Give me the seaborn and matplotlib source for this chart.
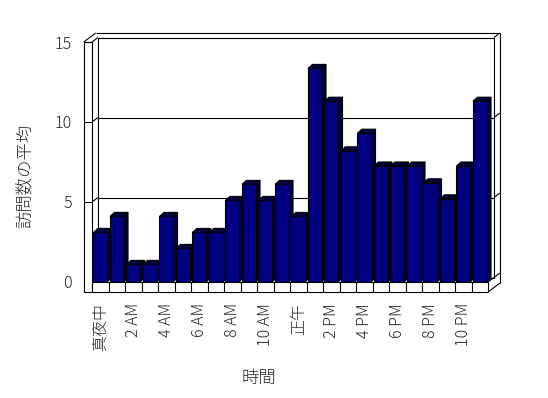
import seaborn as sns
import matplotlib.pyplot as plt
import pandas as pd
from matplotlib.patches import Polygon, Rectangle

# hourly averages
hours = ["真夜中", "1 AM", "2 AM", "3 AM", "4 AM", "5 AM", "6 AM", "7 AM",
         "8 AM", "9 AM", "10 AM", "11 AM", "正午", "1 PM", "2 PM", "3 PM",
         "4 PM", "5 PM", "6 PM", "7 PM", "8 PM", "9 PM", "10 PM", "11 PM"]
visits = [3.1, 4.1, 1.1, 1.1, 4.1, 2.1, 3.1, 3.1, 5.1, 6.1, 5.1, 6.1,
          4.1, 13.35, 11.3, 8.2, 9.3, 7.25, 7.25, 7.25, 6.2, 5.2, 7.25, 11.3]
y_ticks = [0, 5, 10, 15]

sns.set_theme(style="white")
plt.rcParams['font.family'] = ['Noto Sans CJK JP', 'DejaVu Sans']
plt.rcParams['font.weight'] = 'light'

df = pd.DataFrame({"hour": hours, "visits": visits})

W, H = 548, 398
fig = plt.figure(figsize=(W / 100, H / 100), dpi=100)
fig.patch.set_facecolor("white")
# front plane of the 3d box
ax = fig.add_axes([92 / W, (H - 282) / H, 396 / W, 240 / H])
ax.set_facecolor("none")

px_x = 396 / 24.0   # pixels per category
px_y = 240 / 15.0   # pixels per unit
Dx, Dy = 6 / px_x, 4.5 / px_y        # wall depth
bx, by = 4.5 / px_x, 4 / px_y        # bar depth
wx = 8.3 / px_x                      # side wall thickness
sy = 10 / px_y                       # floor slab thickness
lw = 0.8
x0, x1, top = -0.5, 23.5, 15

sns.barplot(data=df, x="hour", y="visits", order=hours, color="#000080",
            saturation=1, width=0.82, edgecolor="black", linewidth=lw,
            ax=ax, zorder=3)

# back wall (inner face) and gridlines
ax.add_patch(Rectangle((x0 + Dx, Dy), x1 - x0, top, facecolor="white",
                       edgecolor="black", lw=lw, zorder=1, clip_on=False))
for v in y_ticks[1:-1]:
    ax.plot([x0 + Dx, x1 + Dx], [v + Dy, v + Dy], color="black", lw=lw,
            zorder=1.5, clip_on=False)

def line(xs, ys, z=2):
    ax.plot(xs, ys, color="black", lw=lw, zorder=z, clip_on=False,
            solid_capstyle="butt")

# back wall thickness (top and right edges)
line([x0 - wx + 2 * Dx, x1 + 2 * Dx], [top + 2 * Dy] * 2)
line([x1 + Dx, x1 + 2 * Dx], [top + Dy, top + 2 * Dy])
line([x1 + 2 * Dx] * 2, [top + 2 * Dy, -sy + 2 * Dy])
for v in y_ticks[:-1]:
    line([x1 + Dx, x1 + 2 * Dx], [v + Dy, v + 2 * Dy])

# left side wall
ax.add_patch(Rectangle((x0 - wx, -sy), wx, top + sy, facecolor="white",
                       edgecolor="black", lw=lw, zorder=4, clip_on=False))
line([x0 - wx, x0 - wx + 2 * Dx], [top, top + 2 * Dy])
for v in y_ticks[1:]:
    line([x0 - wx, x0], [v, v], z=4)
    line([x0, x0 + Dx], [v, v + Dy], z=1.5)

# floor slab with category cells
ax.add_patch(Rectangle((x0, -sy), x1 - x0, sy, facecolor="white",
                       edgecolor="black", lw=lw, zorder=4, clip_on=False))
for k in range(1, 24):
    line([x0 + k, x0 + k], [-sy, 0], z=4)
line([x1, x1 + 2 * Dx], [-sy, -sy + 2 * Dy])
line([x1, x1 + Dx], [0, Dy])

# 3d faces of the bars
for p in ax.patches:
    if not isinstance(p, Rectangle) or p.get_zorder() != 3:
        continue
    xa, w, h = p.get_x(), p.get_width(), p.get_height()
    xb = xa + w
    top_face = [(xa, h), (xb, h), (xb + bx, h + by), (xa + bx, h + by)]
    side_face = [(xb, 0), (xb, h), (xb + bx, h + by), (xb + bx, by)]
    for pts in (top_face, side_face):
        ax.add_patch(Polygon(pts, closed=True, facecolor="#000040",
                             edgecolor="black", lw=lw, zorder=2.5,
                             clip_on=False))

ax.set_xlim(x0, x1)
ax.set_ylim(0, top)
for s in ax.spines.values():
    s.set_visible(False)
ax.grid(False)

ax.set_yticks(y_ticks)
ax.set_yticklabels([str(v) for v in y_ticks])
ax.set_xticks(range(0, 24, 2))
ax.set_xticklabels(hours[::2], rotation=90)
ax.tick_params(axis="y", length=0, pad=14.5, labelsize=11.5)
ax.tick_params(axis="x", length=0, pad=15, labelsize=11.5)
ax.set_xlabel("")
ax.set_ylabel("")

fig.text(26 / W, 1 - 176 / H, "訪問数の平均", rotation=90, ha="center",
         va="center", fontsize=12.5)
fig.text(259 / W, 1 - 378 / H, "時間", ha="center", va="center",
         fontsize=12.5)

fig.savefig("out.png", dpi=100, facecolor="white")
